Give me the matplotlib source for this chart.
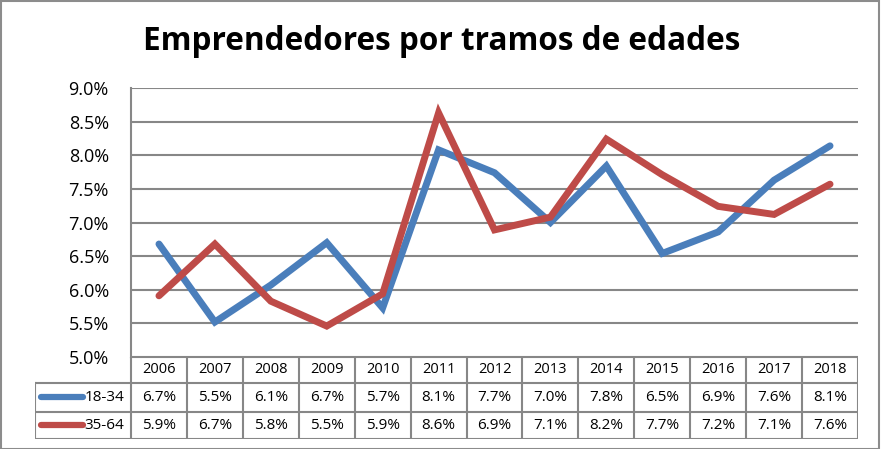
import matplotlib
matplotlib.use("Agg")
import matplotlib.pyplot as plt
from matplotlib.patches import Rectangle
from matplotlib.lines import Line2D
from matplotlib.ticker import FuncFormatter

years = ["2006", "2007", "2008", "2009", "2010", "2011", "2012",
         "2013", "2014", "2015", "2016", "2017", "2018"]
series_names = ["18-34", "35-64"]
young = [6.68, 5.52, 6.07, 6.70, 5.73, 8.08, 7.74, 7.00, 7.84, 6.54, 6.86, 7.63, 8.14]
older = [5.91, 6.68, 5.83, 5.46, 5.94, 8.63, 6.89, 7.08, 8.24, 7.71, 7.24, 7.12, 7.57]
colors = ["#4A7EBB", "#BE4B48"]
title = "Emprendedores por tramos de edades"
yticks = [5.0, 5.5, 6.0, 6.5, 7.0, 7.5, 8.0, 8.5, 9.0]

W, H = 881, 449
fig = plt.figure(figsize=(W / 100, H / 100), dpi=100)
plt.rcParams['font.family'] = ["Open Sans", "DejaVu Sans"]

grid_c = "#878787"

def fx(px):
    return px / W

def fy(py):
    return 1 - py / H

# plot area
L, R, T, B = 131, 858, 88, 357
ax = fig.add_axes([fx(L), fy(B), fx(R) - fx(L), fy(T) - fy(B)])
x = list(range(len(years)))
for vals, c in zip([young, older], colors):
    ax.plot(x, vals, color=c, lw=5.0, solid_capstyle="round", solid_joinstyle="miter", zorder=3)
ax.set_xlim(-0.5, len(years) - 0.5)
ax.set_ylim(yticks[0], yticks[-1])
ax.set_yticks(yticks)
ax.yaxis.set_major_formatter(FuncFormatter(lambda v, p: f"{v:.1f}%"))
ax.tick_params(axis="y", length=0, pad=16, labelsize=13, colors="black")
ax.set_xticks([])
ax.grid(axis="y", color=grid_c, lw=1.5)
for s in ["top", "right", "bottom"]:
    ax.spines[s].set_visible(False)
ax.spines["left"].set_color(grid_c)
ax.spines["left"].set_linewidth(1.5)

fig.text(fx(442), fy(42), title, ha="center", va="center", fontsize=22.7,
         fontweight="bold", family=["Open Sans", "DejaVu Sans"])

# table
TL, TB = 35, 439
tax = fig.add_axes([fx(TL), fy(TB), fx(R) - fx(TL), fy(B) - fy(TB)])
colw = (R - L) / len(years)
legw = (L - TL) / colw
tax.set_xlim(-0.5 - legw, len(years) - 0.5)
tax.set_ylim(3, 0)
tax.axis("off")
rows = [0, 0.95, 2.0, 3.0]
lk = dict(color=grid_c, lw=1.5, solid_capstyle="projecting")
tax.add_line(Line2D([-0.5, len(years) - 0.5], [rows[0]] * 2, **lk))
for r in rows[1:]:
    tax.add_line(Line2D([-0.5 - legw, len(years) - 0.5], [r, r], **lk))
for i in range(len(years) + 1):
    tax.add_line(Line2D([i - 0.5, i - 0.5], [rows[0], rows[3]], **lk))
tax.add_line(Line2D([-0.5 - legw] * 2, [rows[1], rows[3]], **lk))
for i, yr in enumerate(years):
    tax.text(i, (rows[0] + rows[1]) / 2, yr, ha="center", va="center", fontsize=10.5)
for k, (vals, c, name) in enumerate(zip([young, older], colors, series_names)):
    yc = (rows[k + 1] + rows[k + 2]) / 2
    tax.add_line(Line2D([-0.5 - legw + 0.1, -0.5 - legw + 0.85], [yc, yc], color=c,
                        lw=4.5, solid_capstyle="round"))
    tax.text(-0.5 - legw + 0.88, yc, name, ha="left", va="center", fontsize=11)
    for i, v in enumerate(vals):
        tax.text(i, yc, f"{v:.1f}%", ha="center", va="center", fontsize=11)

fig.add_artist(Rectangle((0.001, 0.001), 0.997, 0.997, transform=fig.transFigure,
                         fill=False, edgecolor="#8c8c8c", lw=1.5))

fig.savefig("out.png", dpi=100)
